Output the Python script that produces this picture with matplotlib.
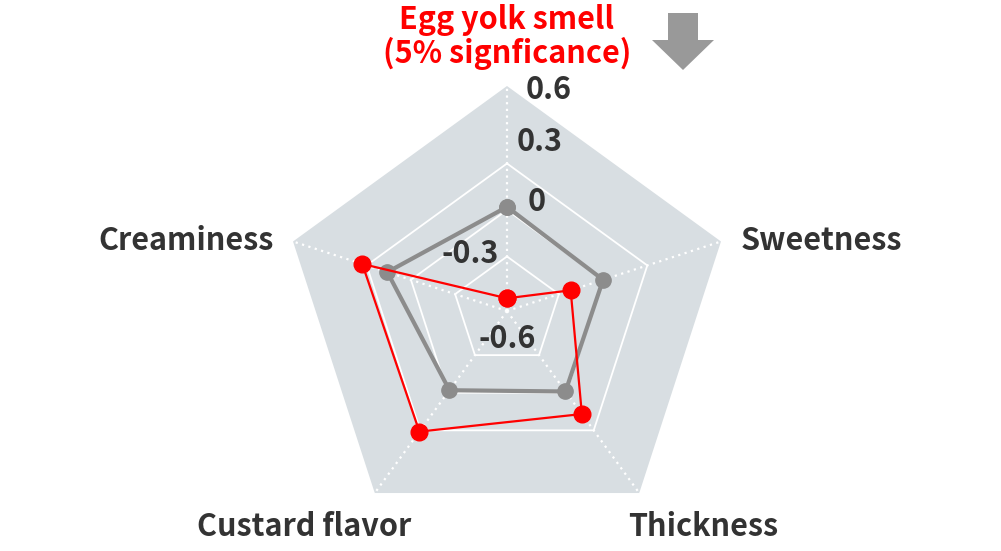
import numpy as np
import matplotlib
matplotlib.use("Agg")
import matplotlib.pyplot as plt
from matplotlib.patches import Polygon

plt.rcParams['font.family'] = ['Noto Sans CJK JP', 'DejaVu Sans']

# Axes (clockwise from top)
categories = ['Egg yolk smell\n(5% signficance)', 'Sweetness', 'Thickness', 'Custard flavor', 'Creaminess']
control = [0.02, 0.0, -0.01, -0.02, 0.16]
sample = [-0.57, -0.22, 0.17, 0.31, 0.33]
ring_values = [-0.3, 0.0, 0.3]
tick_labels = ['0.6', '0.3', '0', '-0.3', '-0.6']
r_min, r_max = -0.652, 0.80

fig = plt.figure(figsize=(10.01, 5.51), dpi=100)
W, H = 1001, 551
cx, cy, R = 507, 311, 225
ax = fig.add_axes([(cx - R) / W, (H - cy - R) / H, 2 * R / W, 2 * R / H], projection='polar')
ax.set_theta_offset(np.pi / 2)
ax.set_theta_direction(-1)
ax.set_ylim(r_min, r_max)
ax.axis('off')

n = len(categories)
theta = np.linspace(0, 2 * np.pi, n, endpoint=False)
closed = np.append(theta, theta[0])

# background pentagon
ax.fill(closed, [r_max] * (n + 1), color='#d8dee2', lw=0, zorder=1)
# rings
for v in ring_values:
    ax.plot(closed, [v] * (n + 1), color='white', lw=1.3, zorder=2)
# spokes
for t in theta:
    ax.plot([t, t], [r_min, r_max], color='white', lw=1.6, linestyle=(0, (1, 2)), zorder=2)

ax.plot(closed, control + control[:1], color='#8c8c8c', lw=3, marker='o', ms=11, zorder=3)
ax.plot(closed, sample + sample[:1], color='#ff0000', lw=1.6, marker='o', ms=12, zorder=4)

# overlay in pixel coordinates for labels and arrow
ov = fig.add_axes([0, 0, 1, 1])
ov.set_xlim(0, W)
ov.set_ylim(H, 0)
ov.axis('off')

label_pos = [(507, 37), (821, 241), (703, 527), (304, 527), (186, 241)]
for lab, (x, y), i in zip(categories, label_pos, range(n)):
    ov.text(x, y, lab, ha='center', va='center', fontsize=22, fontweight='bold',
            color='#ff0000' if i == 0 else '#333333', linespacing=1.05)

tick_pos = [(549, 90), (540, 142), (537, 202), (470, 254), (507, 339)]
for lab, (x, y) in zip(tick_labels, tick_pos):
    ov.text(x, y, lab, ha='center', va='center', fontsize=22, fontweight='bold', color='#333333')

arrow = Polygon([(668, 13), (698, 13), (698, 40), (714, 40), (683, 70), (652, 40), (668, 40)],
                closed=True, color='#999999', lw=0)
ov.add_patch(arrow)

fig.savefig('out.png', dpi=100)
